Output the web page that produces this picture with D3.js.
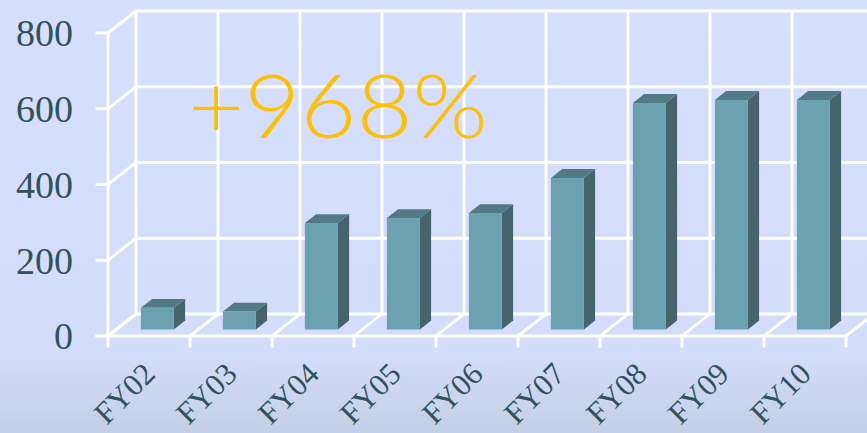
<!DOCTYPE html>
<html lang="en">
<head>
<meta charset="utf-8">
<title>FY bar chart</title>
<script src="https://d3js.org/d3.v7.min.js"></script>
<style>
  html, body { margin: 0; padding: 0; overflow: hidden; }
  body { width: 867px; height: 433px; }
</style>
</head>
<body>
<script>
// chart data
var categories = ["FY02", "FY03", "FY04", "FY05", "FY06", "FY07", "FY08", "FY09", "FY10"];
var values = [57, 47, 281, 294, 307, 400, 598, 606, 606];
var yTicks = [0, 200, 400, 600, 800];
var growthLabel = "+968%";

var W = 867, H = 433;
var left = 108, right = 846, floorY = 336, topY = 33;
var depthX = 28, depthY = -22;

var svg = d3.select("body").append("svg")
  .attr("width", W).attr("height", H);

// background gradient
var defs = svg.append("defs");
var bg = defs.append("linearGradient").attr("id", "bg")
  .attr("x1", 0).attr("y1", 0).attr("x2", 0).attr("y2", 1);
bg.append("stop").attr("offset", "0%").attr("stop-color", "#d6dffd");
bg.append("stop").attr("offset", "82%").attr("stop-color", "#d3dcfa");
bg.append("stop").attr("offset", "100%").attr("stop-color", "#c3cfe6");
svg.append("rect").attr("width", W).attr("height", H).attr("fill", "url(#bg)");

var x = d3.scaleBand().domain(categories).range([left, right]).padding(0);
var y = d3.scaleLinear().domain([0, 800]).range([floorY, topY]);
var bw = x.bandwidth();
var barW = 33;

// project a point at depth fraction f (0 front, 1 back wall)
function P(px, v, f) {
  return [px + depthX * f, y(v) + depthY * f];
}
function poly(pts) { return "M" + pts.map(function(p){ return p.join(","); }).join("L") + "Z"; }

var grid = svg.append("g")
  .attr("stroke", "#ffffff").attr("stroke-width", 3).attr("fill", "none")
  .attr("stroke-linecap", "square");

var xEdges = categories.map(function(c){ return x(c); }).concat([right]);

// back wall horizontals + left wall diagonals
yTicks.forEach(function(v){
  var a = P(left, v, 0), b = P(left, v, 1), c = P(W + 40, v, 1);
  grid.append("path").attr("d", "M" + a + "L" + b + "L" + c);
});
// back wall verticals
xEdges.forEach(function(e){
  var a = P(e, 0, 1), b = P(e, 800, 1);
  grid.append("line").attr("x1", a[0]).attr("y1", a[1]).attr("x2", b[0]).attr("y2", b[1]);
});
// floor diagonals
xEdges.forEach(function(e){
  var a = P(e, 0, 0), b = P(e, 0, 1);
  grid.append("line").attr("x1", a[0]).attr("y1", a[1]).attr("x2", b[0]).attr("y2", b[1]);
});
// front axis lines
grid.append("line").attr("x1", left - 11).attr("y1", y(0)).attr("x2", right).attr("y2", y(0));
grid.append("line").attr("x1", left).attr("y1", y(0)).attr("x2", left).attr("y2", y(800));
yTicks.forEach(function(v){
  grid.append("line").attr("x1", left - 11).attr("x2", left).attr("y1", y(v)).attr("y2", y(v));
});
xEdges.forEach(function(e){
  grid.append("line").attr("x1", e).attr("x2", e).attr("y1", y(0)).attr("y2", y(0) + 10);
});

// bars
var fF = 0.3, fB = 0.7;
var bars = svg.append("g").selectAll("g").data(values).enter().append("g");
bars.each(function(v, i){
  var g = d3.select(this);
  var x0 = x(categories[i]) + (bw - barW) / 2, x1 = x0 + barW;
  g.append("path")
    .attr("d", poly([P(x1, 0, fF), P(x1, 0, fB), P(x1, v, fB), P(x1, v, fF)]))
    .attr("fill", "#45646e");
  g.append("path")
    .attr("d", poly([P(x0, v, fF), P(x1, v, fF), P(x1, v, fB), P(x0, v, fB)]))
    .attr("fill", "#527a84");
  g.append("path")
    .attr("d", poly([P(x0, 0, fF), P(x1, 0, fF), P(x1, v, fF), P(x0, v, fF)]))
    .attr("fill", "#6ba1b0");
});

// y tick labels
svg.append("g").selectAll("text").data(yTicks).enter().append("text")
  .attr("x", 73).attr("y", function(d){ return y(d); })
  .attr("dy", "0.35em")
  .attr("text-anchor", "end")
  .attr("font-family", "Liberation Serif, serif")
  .attr("font-size", "38px")
  .attr("fill", "#2f535b")
  .text(function(d){ return d; });

// x tick labels
svg.append("g").selectAll("text").data(categories).enter().append("text")
  .attr("transform", function(d){
    return "translate(" + (x(d) + bw / 2 - 25) + ",393) rotate(-45)";
  })
  .attr("dy", "0.35em")
  .attr("text-anchor", "middle")
  .attr("font-family", "Liberation Serif, serif")
  .attr("font-size", "31px")
  .attr("fill", "#2f535b")
  .text(function(d){ return d; });

// growth annotation
svg.append("text")
  .attr("x", 188).attr("y", 138)
  .attr("textLength", 300)
  .attr("lengthAdjust", "spacingAndGlyphs")
  .attr("font-family", "Lato, sans-serif")
  .attr("font-weight", 300)
  .attr("font-size", "88px")
  .attr("fill", "#ffc000")
  .text(growthLabel);
</script>
</body>
</html>
